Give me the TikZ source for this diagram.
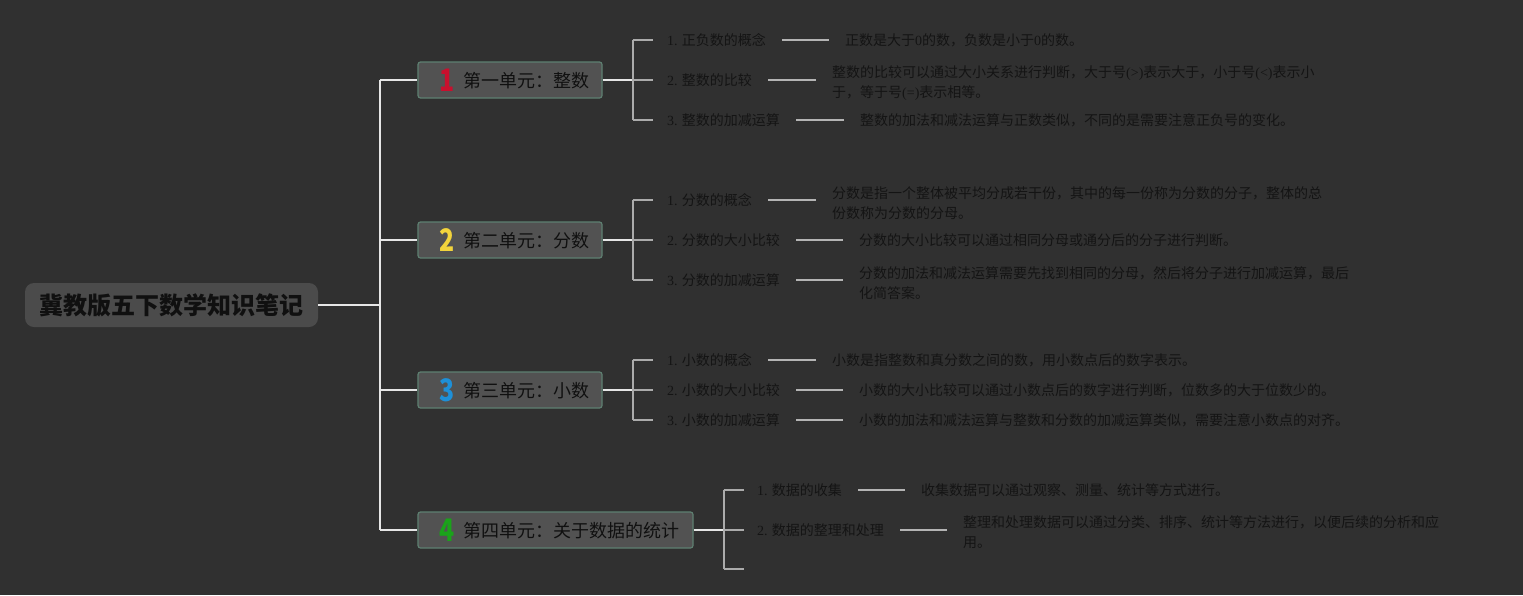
\documentclass[tikz,border=0pt]{standalone}
\usepackage{fontspec}
\usepackage{graphicx}
\setmainfont{Noto Sans CJK SC}
\newfontfamily\serifnum{Liberation Serif}
\usetikzlibrary{calc}
\definecolor{bg}{HTML}{303030}
\definecolor{rootfill}{HTML}{4B4B4B}
\definecolor{unitfill}{HTML}{525252}
\definecolor{unitborder}{HTML}{5E8071}
\definecolor{mainline}{HTML}{E6E6E6}
\definecolor{brline}{HTML}{ABABAB}
\definecolor{lkline}{HTML}{B4B4B4}
\definecolor{txt}{HTML}{101010}
\definecolor{labtxt}{HTML}{141414}
\definecolor{nred}{HTML}{C8102E}
\definecolor{nyellow}{HTML}{F2D43C}
\definecolor{nblue}{HTML}{1E90D8}
\definecolor{ngreen}{HTML}{1AA31A}
\newcommand{\sn}[1]{{\serifnum #1}}
\newcommand{\unum}[2]{\makebox[16pt]{\raisebox{-4pt}{\textcolor{#1}{\scalebox{0.8}[1]{\fontsize{31}{31}\selectfont\bfseries #2}}}}\hspace{8pt}}
\begin{document}
\begin{tikzpicture}[x=1pt,y=-1pt,
  main/.style={draw=mainline, line width=2pt},
  br/.style={draw=brline, line width=2pt},
  lk/.style={draw=lkline, line width=1.6pt},
  rootbox/.style={fill=rootfill, rounded corners=9pt, minimum width=293pt, minimum height=44pt, inner sep=0pt,
    text height=21pt, text depth=3pt, font=\fontsize{24}{26}\selectfont\bfseries, text=txt},
  unitbox/.style={draw=unitborder, fill=unitfill, rounded corners=2.5pt, line width=1.2pt, minimum height=36pt,
    inner ysep=0pt, inner xsep=21pt, text height=14pt, text depth=0pt, font=\fontsize{18}{20}\selectfont, text=txt},
  lab/.style={anchor=west, inner sep=0pt, text height=12.3pt, text depth=1.7pt, font=\fontsize{14}{20}\selectfont, text=labtxt},
  desc/.style={anchor=west, inner sep=0pt, align=left, font=\fontsize{14}{20}\selectfont, text=labtxt},
]
\fill[bg] (0,0) rectangle (1523,595);
\useasboundingbox (0,0) rectangle (1523,595);

% root
\node[rootbox] (root) at (171.5,305) {冀教版五下数学知识笔记};

% units
\node[unitbox] (u1) at (510,80) {\makebox[142pt][l]{\unum{nred}{1}第一单元：整数}};
\node[unitbox] (u2) at (510,240) {\makebox[142pt][l]{\unum{nyellow}{2}第二单元：分数}};
\node[unitbox] (u3) at (510,390) {\makebox[142pt][l]{\unum{nblue}{3}第三单元：小数}};
\node[unitbox] (u4) at (555.5,530) {\makebox[233pt][l]{\unum{ngreen}{4}第四单元：关于数据的统计}};

% trunk
\draw[main] (root.east) -- ++(62,0) coordinate (t);
\draw[main] (t |- u1.west) -- (t |- u4.west);
\foreach \u in {u1,u2,u3,u4} \draw[main] (t |- \u.west) -- (\u.west);

% unit 1
\node[lab] (l11) at (667,40) {\sn{1.} 正负数的概念};
\node[lab] (l12) at (667,80) {\sn{2.} 整数的比较};
\node[lab] (l13) at (667,120) {\sn{3.} 整数的加减运算};
\node[lab] (d11) at (845,40) {正数是大于\sn{0}的数，负数是小于\sn{0}的数。};
\node[desc] (d12) at (832,83.5) {整数的比较可以通过大小关系进行判断，大于号\sn{(>)}表示大于，小于号\sn{(<)}表示小\\于，等于号\sn{(=)}表示相等。};
\node[lab] (d13) at (860,120) {整数的加法和减法运算与正数类似，不同的是需要注意正负号的变化。};

% unit 2
\node[lab] (l21) at (667,200) {\sn{1.} 分数的概念};
\node[lab] (l22) at (667,240) {\sn{2.} 分数的大小比较};
\node[lab] (l23) at (667,280) {\sn{3.} 分数的加减运算};
\node[desc] (d21) at (832,203.5) {分数是指一个整体被平均分成若干份，其中的每一份称为分数的分子，整体的总\\份数称为分数的分母。};
\node[lab] (d22) at (859,240) {分数的大小比较可以通过相同分母或通分后的分子进行判断。};
\node[desc] (d23) at (859,283.5) {分数的加法和减法运算需要先找到相同的分母，然后将分子进行加减运算，最后\\化简答案。};

% unit 3
\node[lab] (l31) at (667,360) {\sn{1.} 小数的概念};
\node[lab] (l32) at (667,390) {\sn{2.} 小数的大小比较};
\node[lab] (l33) at (667,420) {\sn{3.} 小数的加减运算};
\node[lab] (d31) at (832,360) {小数是指整数和真分数之间的数，用小数点后的数字表示。};
\node[lab] (d32) at (859,390) {小数的大小比较可以通过小数点后的数字进行判断，位数多的大于位数少的。};
\node[lab] (d33) at (859,420) {小数的加法和减法运算与整数和分数的加减运算类似，需要注意小数点的对齐。};

% unit 4
\node[lab] (l41) at (757,490) {\sn{1.} 数据的收集};
\node[lab] (l42) at (757,530) {\sn{2.} 数据的整理和处理};
\coordinate (l43) at (757,569);
\node[lab] (d41) at (921,490) {收集数据可以通过观察、测量、统计等方式进行。};
\node[desc] (d42) at (963,532) {整理和处理数据可以通过分类、排序、统计等方法进行，以便后续的分析和应\\用。};

% brackets units 1-3
\foreach \k in {1,2,3} {
  \draw[main] (u\k.east) -- ++(30,0) coordinate (b\k);
  \draw[br] (b\k |- l\k1.west) -- (b\k |- l\k3.west);
  \foreach \j in {1,2,3} \draw[br] (b\k |- l\k\j.west) -- ++(20,0);
}
% bracket unit 4
\draw[main] (u4.east) -- ++(30,0) coordinate (b4);
\draw[br] (b4 |- l41.west) -- (b4 |- l43);
\draw[br] (b4 |- l41.west) -- ++(20,0);
\draw[br] (b4 |- l42.west) -- ++(20,0);
\draw[br] (b4 |- l43) -- ++(20,0);

% label -> description links
\foreach \a/\b in {l11/d11,l12/d12,l13/d13,l21/d21,l22/d22,l23/d23,l31/d31,l32/d32,l33/d33,l41/d41,l42/d42}
  \draw[lk] ([xshift=16pt]\a.east) -- ([xshift=-16pt]\a.east -| \b.west);
\end{tikzpicture}
\end{document}
